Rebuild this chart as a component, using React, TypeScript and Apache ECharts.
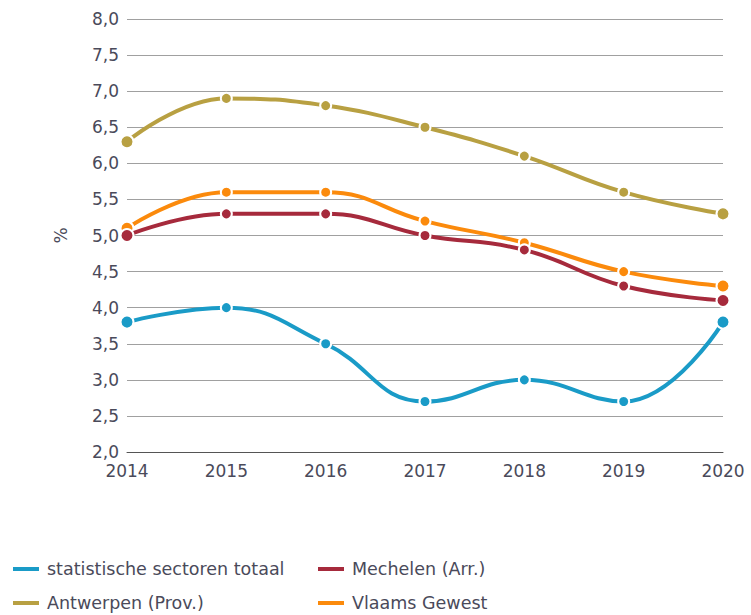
import React, { useEffect, useRef } from "react";
import * as echarts from "echarts";

const years = ["2014", "2015", "2016", "2017", "2018", "2019", "2020"];
const sectoren = [3.8, 4.0, 3.5, 2.7, 3.0, 2.7, 3.8];
const mechelen = [5.0, 5.3, 5.3, 5.0, 4.8, 4.3, 4.1];
const antwerpen = [6.3, 6.9, 6.8, 6.5, 6.1, 5.6, 5.3];
const vlaams = [5.1, 5.6, 5.6, 5.2, 4.9, 4.5, 4.3];

const names = ["statistische sectoren totaal", "Mechelen (Arr.)", "Antwerpen (Prov.)", "Vlaams Gewest"];
const colors = ["#1a9bc7", "#a62a3c", "#b8a042", "#fb8a0c"];

const FONT = "DejaVu Sans";
const TEXT = "#4a4a5a";

export default function App() {
  const ref = useRef<HTMLDivElement>(null);
  useEffect(() => {
    const chart = echarts.init(ref.current!, null, { renderer: "svg" });
    const datasets = [sectoren, mechelen, antwerpen, vlaams];
    const legendBase = {
      orient: "vertical" as const,
      icon: "rect",
      itemWidth: 26,
      itemHeight: 4,
      itemGap: 16,
      itemStyle: { borderWidth: 0 },
      textStyle: { fontFamily: FONT, fontSize: 17.5, color: TEXT, padding: [0, 0, 0, 3] },
      bottom: -2,
    };
    chart.setOption({
      animation: false,
      backgroundColor: "#fff",
      grid: { left: 127, right: 28, top: 19, bottom: 163, containLabel: false },
      legend: [
        { ...legendBase, left: 8, data: [names[0], names[2]] },
        { ...legendBase, left: 313, data: [names[1], names[3]] },
      ],
      xAxis: {
        type: "category",
        data: years,
        boundaryGap: false,
        axisLine: { lineStyle: { color: "#555", width: 1 } },
        axisTick: { show: false },
        axisLabel: { fontFamily: FONT, fontSize: 17, color: TEXT, margin: 10 },
      },
      yAxis: {
        type: "value",
        min: 2,
        max: 8,
        interval: 0.5,
        name: "%",
        nameLocation: "middle",
        nameGap: 58,
        nameTextStyle: { fontFamily: FONT, fontSize: 17, color: TEXT },
        axisLine: { show: false },
        axisTick: { show: false },
        splitLine: { lineStyle: { color: "#a0a0a0", width: 1 } },
        axisLabel: {
          fontFamily: FONT,
          fontSize: 17,
          color: TEXT,
          margin: 8,
          formatter: (v: number) => v.toFixed(1).replace(".", ","),
        },
      },
      series: datasets.map((d, i) => ({
        name: names[i],
        type: "line",
        data: d,
        smooth: 0.45,
        color: colors[i],
        lineStyle: { width: 4, color: colors[i] },
        symbol: "circle",
        symbolSize: (_v: number, p: any) => (p.dataIndex === 0 || p.dataIndex === d.length - 1 ? 13 : 11),
        itemStyle: { color: colors[i], borderColor: "#fff", borderWidth: 2 },
        z: 10 - i,
      })),
    });
    return () => chart.dispose();
  }, []);
  return (
    <div
      ref={ref}
      style={{ position: "fixed", left: 0, top: 0, width: 751, height: 615 }}
    />
  );
}
